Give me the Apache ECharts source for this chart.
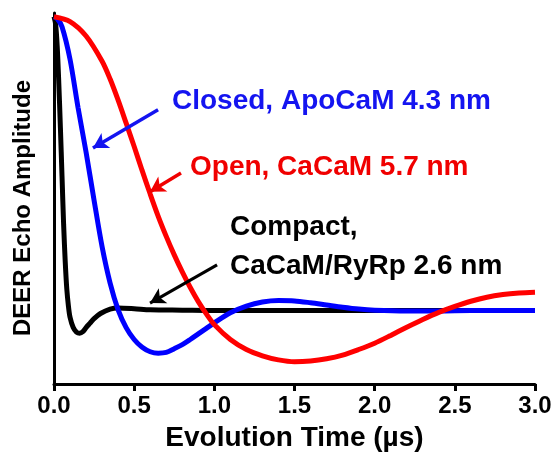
<!DOCTYPE html>
<html>
<head>
<meta charset="utf-8">
<script src="https://cdn.jsdelivr.net/npm/echarts@6/dist/echarts.min.js"></script>
<style>html,body{margin:0;padding:0;background:#fff;}#c{width:554px;height:452px;}</style>
</head>
<body>
<div id="c"></div>
<script>
// Compact, CaCaM/RyRp 2.6 nm (black)
var tBlack = [0, 0.01, 0.02, 0.03, 0.04, 0.05, 0.06, 0.07, 0.08, 0.09, 0.10, 0.12, 0.14, 0.16, 0.18, 0.20, 0.225, 0.25, 0.29, 0.35, 0.40, 0.50, 0.60, 0.80, 1.0, 1.5, 2.0, 2.5, 3.0];
var yBlack = [0.99, 0.97, 0.91, 0.81, 0.69, 0.56, 0.43, 0.33, 0.255, 0.21, 0.18, 0.152, 0.14, 0.137, 0.141, 0.152, 0.164, 0.176, 0.19, 0.202, 0.205, 0.203, 0.200, 0.199, 0.198, 0.198, 0.198, 0.198, 0.198];
// Closed, ApoCaM 4.3 nm (blue)
var tBlue = [0, 0.02, 0.05, 0.1, 0.15, 0.2, 0.25, 0.3, 0.35, 0.4, 0.45, 0.5, 0.55, 0.6, 0.65, 0.7, 0.75, 0.8, 0.85, 0.9, 0.95, 1.0, 1.1, 1.2, 1.3, 1.4, 1.5, 1.6, 1.7, 1.8, 1.9, 2.0, 2.2, 2.4, 2.6, 3.0];
var yBlue = [0.99, 0.985, 0.963, 0.875, 0.745, 0.625, 0.495, 0.37, 0.272, 0.2, 0.152, 0.12, 0.099, 0.087, 0.083, 0.085, 0.095, 0.106, 0.12, 0.135, 0.15, 0.165, 0.192, 0.21, 0.221, 0.225, 0.224, 0.219, 0.213, 0.207, 0.202, 0.199, 0.197, 0.197, 0.198, 0.198];
// Open, CaCaM 5.7 nm (red)
var tRed = [0, 0.1, 0.2, 0.3, 0.35, 0.4, 0.45, 0.5, 0.55, 0.6, 0.65, 0.7, 0.75, 0.8, 0.85, 0.9, 0.95, 1.0, 1.1, 1.2, 1.3, 1.4, 1.5, 1.6, 1.7, 1.8, 1.9, 2.0, 2.1, 2.2, 2.3, 2.4, 2.5, 2.6, 2.7, 2.8, 2.9, 3.0];
var yRed = [0.99, 0.977, 0.938, 0.87, 0.822, 0.765, 0.703, 0.64, 0.575, 0.512, 0.452, 0.398, 0.348, 0.302, 0.26, 0.222, 0.189, 0.16, 0.12, 0.093, 0.076, 0.065, 0.06, 0.062, 0.068, 0.078, 0.093, 0.11, 0.131, 0.153, 0.174, 0.193, 0.209, 0.223, 0.234, 0.241, 0.245, 0.247];
var xTicks = [0, 0.5, 1.0, 1.5, 2.0, 2.5, 3.0];

function zip(a, b) { return a.map(function (v, i) { return [v, b[i]]; }); }

var FONT = "'Liberation Sans', Arial, sans-serif";
var chart = echarts.init(document.getElementById('c'));

function arrow(color, from, to, w) {
  return {
    silent: true,
    symbol: ['none', 'arrow'],
    symbolSize: [13, 15],
    label: { show: false },
    lineStyle: { color: color, width: w, type: 'solid' },
    data: [[{ coord: from }, { coord: to }]],
    animation: false
  };
}

chart.setOption({
  animation: false,
  grid: { left: 54, right: 19, top: 13, bottom: 68, containLabel: false, outerBoundsMode: 'none' },
  xAxis: {
    type: 'value', min: xTicks[0], max: xTicks[xTicks.length - 1], interval: 0.5,
    name: 'Evolution Time (\u00b5s)', nameLocation: 'middle', nameGap: 40,
    nameTextStyle: { fontFamily: FONT, fontWeight: 'bold', fontSize: 28, color: '#000' },
    axisLine: { show: true, lineStyle: { color: '#000', width: 3 } },
    axisTick: { show: true, length: 7, inside: false, lineStyle: { color: '#000', width: 3 } },
    axisLabel: { fontFamily: FONT, fontWeight: 'bold', fontSize: 24, color: '#000', margin: 10,
      formatter: function (v) { return v.toFixed(1); } },
    splitLine: { show: false }
  },
  yAxis: {
    type: 'value', min: 0, max: 1,
    axisLine: { show: true, lineStyle: { color: '#000', width: 3 } },
    axisTick: { show: false }, axisLabel: { show: false }, splitLine: { show: false }
  },
  graphic: [
    { type: 'text', x: 23, y: 208, rotation: Math.PI / 2,
      style: { text: 'DEER Echo Amplitude', fill: '#000', font: 'bold 24px ' + FONT, align: 'center', verticalAlign: 'middle' } },
    { type: 'text', x: 172, y: 101,
      style: { text: 'Closed, ApoCaM 4.3 nm', fill: '#1414f0', font: 'bold 28px ' + FONT, align: 'left', verticalAlign: 'middle' } },
    { type: 'text', x: 190, y: 167,
      style: { text: 'Open, CaCaM 5.7 nm', fill: '#f00000', font: 'bold 28px ' + FONT, align: 'left', verticalAlign: 'middle' } },
    { type: 'text', x: 230, y: 227,
      style: { text: 'Compact,', fill: '#000', font: 'bold 28px ' + FONT, align: 'left', verticalAlign: 'middle' } },
    { type: 'text', x: 230, y: 266,
      style: { text: 'CaCaM/RyRp 2.6 nm', fill: '#000', font: 'bold 28px ' + FONT, align: 'left', verticalAlign: 'middle' } }
  ],
  series: [
    { type: 'line', data: zip(tBlack, yBlack), smooth: 0.3, showSymbol: false, z: 2,
      lineStyle: { color: '#000', width: 5 },
      markLine: arrow('#000', [1.017, 0.321], [0.599, 0.218], 3) },
    { type: 'line', data: zip(tBlue, yBlue), smooth: 0.3, showSymbol: false, z: 3,
      lineStyle: { color: '#0000ff', width: 5 },
      markLine: arrow('#1414f0', [0.649, 0.739], [0.243, 0.636], 3.5) },
    { type: 'line', data: zip(tRed, yRed), smooth: 0.3, showSymbol: false, z: 4,
      lineStyle: { color: '#ff0000', width: 5 },
      markLine: arrow('#f00000', [0.792, 0.569], [0.599, 0.518], 3.5) }
  ]
});
</script>
</body>
</html>
